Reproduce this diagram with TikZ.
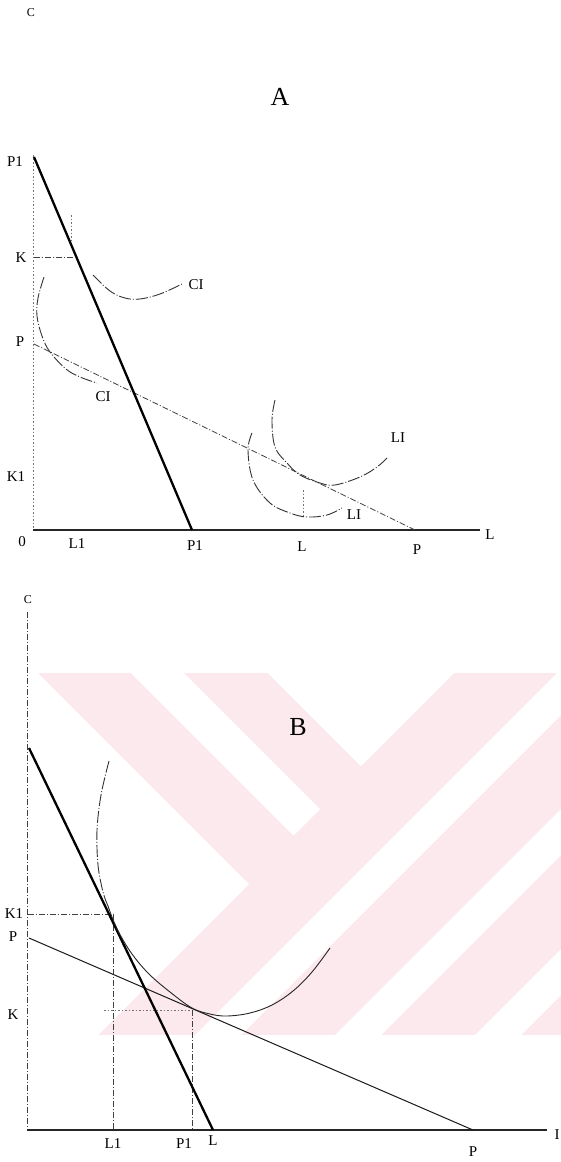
\documentclass[tikz,border=0pt]{standalone}
\usepackage{fontspec}
\setmainfont{Liberation Serif}
\definecolor{wm}{RGB}{252,233,237}
\begin{document}
\begin{tikzpicture}[x=1pt,y=-1pt,
  lab/.style={font=\fontsize{15}{15}\selectfont, inner sep=0pt},
  smalllab/.style={font=\fontsize{12}{12}\selectfont, inner sep=0pt},
  big/.style={font=\fontsize{26}{26}\selectfont, inner sep=0pt},
  thickln/.style={line width=2.3pt, black},
  axisln/.style={line width=1.3pt, black!85},
  thinln/.style={line width=1pt, black!90},
  ddline/.style={line width=0.8pt, black!75, dash pattern=on 6pt off 2pt on 1pt off 2pt},
  dotln/.style={line width=0.7pt, black!55, dash pattern=on 1.5pt off 2pt},
  curveln/.style={line width=0.9pt, black!80, dash pattern=on 12pt off 2pt on 1pt off 2pt},
  curveB/.style={line width=0.9pt, black!85},
]
\useasboundingbox (0,0) rectangle (561,1162);
\fill[white] (0,0) rectangle (561,1162);

% ---------- watermark (panel B background) ----------
\begin{scope}
\clip (38,673) rectangle (561,1035);
\fill[wm] (38,673) rectangle (561,1035);
\fill[white] (249,884) -- (-151,484) -- (-151,1284) -- cycle;
\fill[white] (58,600) -- (111,600) -- (320,809) -- (293.5,835.5) -- cycle;
\fill[white] (361,766) -- (161,566) -- (561,566) -- cycle;
\foreach \a in {1230,1370,1510,1650}{
  \fill[white] (\a-600,600) -- (\a+46-600,600) -- (\a+46-1100,1100) -- (\a-1100,1100) -- cycle;
}
\end{scope}

% ================= PANEL A =================
\coordinate (aO) at (33,530);
\coordinate (aYtop) at (33,155);
\coordinate (aXend) at (480,530);
\coordinate (aP1top) at (34,157);
\coordinate (aP1bot) at (192,530);
\coordinate (aPtop) at (34,344);
\coordinate (aPbot) at (415,530);
\coordinate (aK) at (34,257);
\coordinate (aKe) at (76,257);
\coordinate (aV1) at (71,215);
\coordinate (aV2) at (71,243);
\coordinate (aL1) at (303,490);
\coordinate (aL2) at (303,517);

\draw[dotln] (aYtop) -- (aO);
\draw[axisln] (aO) -- (aXend);
\draw[ddline] (aPtop) -- (aPbot);
\draw[thickln] (aP1top) -- (aP1bot);
\draw[ddline] (aK) -- (aKe);
\draw[dotln] (aV1) -- (aV2);
\draw[dotln] (aL1) -- (aL2);

% indifference / isoquant curves
\draw[curveln] plot[smooth, tension=0.6] coordinates {(93,275) (110,291) (125,298) (140,299) (160,294) (182,284)};
\draw[curveln] plot[smooth, tension=0.6] coordinates {(44,277) (38,298) (37,316) (42,336) (50,352) (66,369) (80,377) (97,383)};
\draw[curveln] plot[smooth, tension=0.6] coordinates {(275,400) (272,420) (275,447) (287,463) (300,475) (320,483) (335,485) (360,477) (377,467) (387,458)};
\draw[curveln] plot[smooth, tension=0.6] coordinates {(252,433) (248,450) (253,480) (270,503) (290,513) (307,517) (327,515) (342,508)};

% labels A
\node[smalllab] (aC) at (31,13) {C};
\node[big] (aA) at (280,97) {A};
\node[lab] (aP1l) at (15,162) {P1};
\node[lab] (aKl) at (21,258) {K};
\node[lab] (aPl) at (20,342) {P};
\node[lab] (aK1l) at (16,477) {K1};
\node[lab] (aOl) at (22,542) {0};
\node[lab] (aL1l) at (77,544) {L1};
\node[lab] (aP1b) at (195,546) {P1};
\node[lab] (aLb) at (302,547) {L};
\node[lab] (aPb) at (417,550) {P};
\node[lab] (aLr) at (490,535) {L};
\node[lab] (aCI1) at (196,285) {CI};
\node[lab] (aCI2) at (103,397) {CI};
\node[lab] (aLI1) at (398,438) {LI};
\node[lab] (aLI2) at (354,515) {LI};

% ================= PANEL B =================
\coordinate (bO) at (27,1130);
\coordinate (bYtop) at (27,612);
\coordinate (bXend) at (547,1130);
\coordinate (bTtop) at (29,748);
\coordinate (bTbot) at (213,1130);
\coordinate (bPtop) at (29,938);
\coordinate (bPbot) at (473,1130);
\coordinate (bK1) at (28,914);
\coordinate (bK1e) at (111,914);
\coordinate (bL1top) at (113,914);
\coordinate (bL1bot) at (113,1130);
\coordinate (bKs) at (104,1010);
\coordinate (bKe) at (192,1010);
\coordinate (bP1bot) at (192,1130);

\draw[ddline] (bYtop) -- (bO);
\draw[axisln] (bO) -- (bXend);
\draw[ddline] (bK1) -- (bK1e);
\draw[ddline] (bL1top) -- (bL1bot);
\draw[dotln] (bKs) -- (bKe);
\draw[ddline] (bKe) -- (bP1bot);
\draw[thinln] (bPtop) -- (bPbot);
\draw[thickln] (bTtop) -- (bTbot);
\draw[curveln] plot[smooth, tension=0.55] coordinates {(109,761) (101,795) (97,830) (98,865) (103,892) (108,906)};
\draw[curveB] plot[smooth, tension=0.6] coordinates {(108,906) (114,922) (123,940) (135,958) (150,975) (170,992) (192,1008) (210,1014) (227,1016) (250,1013) (272,1005) (293,991) (312,972) (330,948)};

% labels B
\node[smalllab] (bC) at (28,600) {C};
\node[big] (bB) at (298,727) {B};
\node[lab] (bK1l) at (14,914) {K1};
\node[lab] (bPl) at (13,937) {P};
\node[lab] (bKl) at (13,1015) {K};
\node[lab] (bL1l) at (113,1144) {L1};
\node[lab] (bP1l) at (184,1144) {P1};
\node[lab] (bLl) at (213,1141) {L};
\node[lab] (bPr) at (473,1152) {P};
\node[lab] (bIr) at (557,1135) {I};
\end{tikzpicture}
\end{document}
